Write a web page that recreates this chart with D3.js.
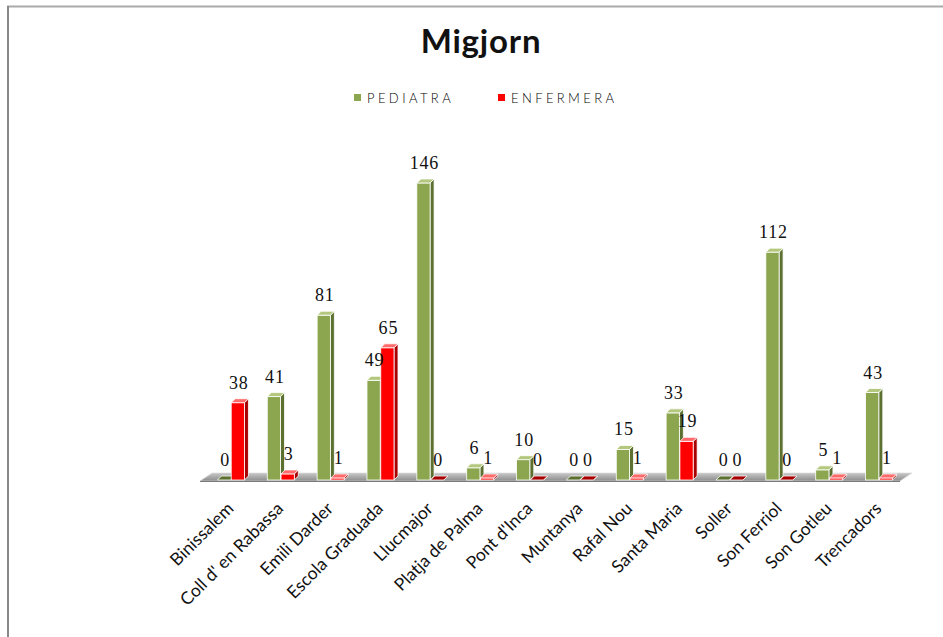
<!DOCTYPE html>
<html>
<head>
<meta charset="utf-8">
<script src="https://cdn.jsdelivr.net/npm/d3@7"></script>
<style>
  html, body { margin: 0; padding: 0; background: #fff; }
  svg { display: block; }
</style>
</head>
<body>
<div id="chart"></div>
<script>
// data
var categories = ["Binissalem", "Coll d' en Rabassa", "Emili Darder", "Escola Graduada", "Llucmajor",
  "Platja de Palma", "Pont d'Inca", "Muntanya", "Rafal Nou", "Santa Maria", "Soller",
  "Son Ferriol", "Son Gotleu", "Trencadors"];
var seriesNames = ["PEDIATRA", "ENFERMERA"];
var pediatra = [0, 41, 81, 49, 146, 6, 10, 0, 15, 33, 0, 112, 5, 43];
var enfermera = [38, 3, 1, 65, 0, 1, 0, 0, 1, 19, 0, 0, 1, 1];

var width = 943, height = 637;
var colors = {
  PEDIATRA: { front: "#8ba64f", side: "#5c7030", top: "#b3c87d" },
  ENFERMERA: { front: "#ff0000", side: "#a80000", top: "#ff6b6b" }
};
var depth = 4;

var svg = d3.select("#chart").append("svg")
  .attr("width", width).attr("height", height);

// frame
svg.append("line").attr("x1", 7).attr("y1", 6.5).attr("x2", width).attr("y2", 6.5)
  .attr("stroke", "#aaa").attr("stroke-width", 2);
svg.append("line").attr("x1", 8).attr("y1", 6).attr("x2", 8).attr("y2", height)
  .attr("stroke", "#888").attr("stroke-width", 2);

var x0 = d3.scaleBand().domain(categories).range([206, 904]).paddingInner(0.458).paddingOuter(0.229);
var x1 = d3.scaleBand().domain(seriesNames).range([0, x0.bandwidth()]).paddingInner(0.04);
var y = d3.scaleLinear().domain([0, 160]).range([480, 154.5]);

// title
svg.append("text").attr("x", 481).attr("y", 53).attr("text-anchor", "middle")
  .attr("font-family", "Lato, sans-serif").attr("font-weight", "bold").attr("font-size", 33)
  .attr("letter-spacing", 0.8).attr("fill", "#111").text("Migjorn");

// legend
var legend = svg.append("g").selectAll("g").data(seriesNames).enter().append("g")
  .attr("transform", function (d, i) { return "translate(" + (354 + i * 144) + ",94)"; });
legend.append("rect").attr("width", 7).attr("height", 7)
  .attr("fill", function (d) { return colors[d].front; });
legend.append("text").attr("x", 13).attr("y", 8.5)
  .attr("font-family", "Lato, sans-serif").attr("font-weight", 300).attr("font-size", 13)
  .attr("letter-spacing", 3.4).attr("fill", "#000").text(function (d) { return d; });

// floor
var fl = x0.range()[0] - 6, fr = x0.range()[1] - 4, fy = y(0) + 1;
var floor = [[fl, fy], [fr, fy], [fr + 12, fy - 8], [fl + 12, fy - 8]];
var defs = svg.append("defs");
var fg = defs.append("linearGradient").attr("id", "floorGrad").attr("x1", 0).attr("y1", 0).attr("x2", 0).attr("y2", 1);
fg.append("stop").attr("offset", "0%").attr("stop-color", "#c8c8c8");
fg.append("stop").attr("offset", "100%").attr("stop-color", "#8c8c8c");
svg.append("path").attr("d", d3.line()(floor) + "Z").attr("fill", "url(#floorGrad)")
  .attr("stroke", "#d9d9d9").attr("stroke-width", 0.6);
svg.append("line").attr("x1", fl).attr("x2", fr).attr("y1", fy + 0.5).attr("y2", fy + 0.5)
  .attr("stroke", "#7a7a7a").attr("stroke-width", 1.2);

// bars
var rows = [];
categories.forEach(function (c, i) {
  rows.push({ cat: c, key: "PEDIATRA", value: pediatra[i] });
  rows.push({ cat: c, key: "ENFERMERA", value: enfermera[i] });
});

var bars = svg.append("g").selectAll("g.bar").data(rows).enter().append("g").attr("class", "bar");
function bx(d) { return x0(d.cat) + x1(d.key); }
var bw = x1.bandwidth();

bars.append("path") // side face
  .attr("d", function (d) {
    var x = bx(d) + bw, yt = y(d.value), yb = y(0);
    return "M" + x + "," + yb + "L" + (x + depth) + "," + (yb - depth) + "L" + (x + depth) + "," + (yt - depth) + "L" + x + "," + yt + "Z";
  })
  .attr("fill", function (d) { return colors[d.key].side; })
  .attr("stroke", "#fff").attr("stroke-width", 0.8).attr("stroke-linejoin", "round");
bars.append("rect") // front face
  .attr("x", bx).attr("y", function (d) { return y(d.value); })
  .attr("width", bw).attr("height", function (d) { return y(0) - y(d.value); })
  .attr("fill", function (d) { return colors[d.key].front; })
  .attr("stroke", "#fff").attr("stroke-width", 0.8);
bars.append("path") // top face
  .attr("d", function (d) {
    var x = bx(d), yt = y(d.value);
    return "M" + x + "," + yt + "L" + (x + bw) + "," + yt + "L" + (x + bw + depth) + "," + (yt - depth) + "L" + (x + depth) + "," + (yt - depth) + "Z";
  })
  .attr("fill", function (d) { return d.value === 0 ? colors[d.key].side : colors[d.key].top; })
  .attr("stroke", "#fff").attr("stroke-width", 0.8).attr("stroke-linejoin", "round");

// value labels
svg.append("g").selectAll("text").data(rows).enter().append("text")
  .attr("x", function (d) { return bx(d) + bw / 2 + 1; })
  .attr("y", function (d) { return y(d.value) - 14; })
  .attr("text-anchor", "middle")
  .attr("font-family", "'Liberation Serif', serif").attr("font-size", 18).attr("letter-spacing", 0.8)
  .attr("fill", "#111").text(function (d) { return d.value; });

// category labels
svg.append("g").selectAll("text").data(categories).enter().append("text")
  .attr("transform", function (d) { return "translate(" + (x0(d) + x0.bandwidth() / 2 - 5) + ",501) rotate(-45)"; })
  .attr("text-anchor", "end").attr("dy", "0.7em")
  .attr("font-family", "Lato, sans-serif").attr("font-size", 17.5)
  .attr("fill", "#111").text(function (d) { return d; });
</script>
</body>
</html>
